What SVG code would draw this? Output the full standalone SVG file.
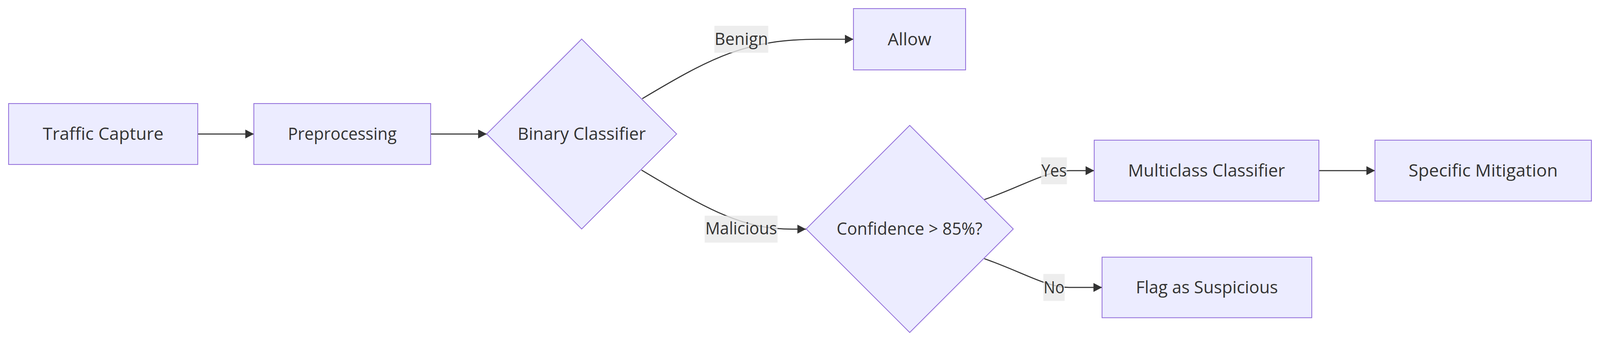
<svg xmlns="http://www.w3.org/2000/svg" width="4280" height="914" viewBox="0 0 4280 914" preserveAspectRatio="xMinYMin meet" style="width:100vw;height:100vh;display:block">
  <style>
    .node rect, .node polygon { fill: #ECECFF; stroke: #9370DB; stroke-width: 2.2; }
    .label { font-family: "Open Sans", "Noto Sans", "DejaVu Sans", sans-serif; font-size: 45px; fill: #333333; text-anchor: middle; }
    .edge { fill: none; stroke: #333333; stroke-width: 2.8; }
    .edgeLabel rect { fill: rgba(232,232,232,0.8); stroke: none; }
  </style>
  <defs>
    <marker id="arrow" viewBox="0 0 10 10" refX="10" refY="5" markerUnits="userSpaceOnUse" markerWidth="23" markerHeight="24" preserveAspectRatio="none" orient="auto">
      <path d="M0,0 L10,5 L0,10 z" fill="#333333"/>
    </marker>
  </defs>
  <rect x="0" y="0" width="4280" height="914" fill="#ffffff"/>

  <g id="connectors">
    <path class="edge" d="M529,358.5 L679,358.5" marker-end="url(#arrow)"/>
    <path class="edge" d="M1152,358.5 L1302,358.5" marker-end="url(#arrow)"/>
    <path class="edge" d="M1718,264 C1907,151 1998,105 2190,105 L2283,105" marker-end="url(#arrow)"/>
    <path class="edge" d="M1716,455 C1905,568 1990,613 2120,613 L2156,613" marker-end="url(#arrow)"/>
    <path class="edge" d="M2633,534 C2740,496 2800,456.5 2860,456.5 L2927,456.5" marker-end="url(#arrow)"/>
    <path class="edge" d="M2633,692 C2740,730 2800,769 2860,769 L2948,769" marker-end="url(#arrow)"/>
    <path class="edge" d="M3528,456.5 L3678,456.5" marker-end="url(#arrow)"/>
  </g>

  <g id="edge-labels">
    <g class="edgeLabel" id="label-benign">
      <rect x="1911" y="69" width="144" height="72"/>
      <text class="label" x="1983" y="120.5" textLength="143" lengthAdjust="spacingAndGlyphs">Benign</text>
    </g>
    <g class="edgeLabel" id="label-malicious">
      <rect x="1885" y="577" width="195" height="72"/>
      <text class="label" x="1982.5" y="627" textLength="192" lengthAdjust="spacingAndGlyphs">Malicious</text>
    </g>
    <g class="edgeLabel" id="label-yes">
      <rect x="2785" y="421" width="69" height="72"/>
      <text class="label" x="2819.5" y="472" textLength="68" lengthAdjust="spacingAndGlyphs">Yes</text>
    </g>
    <g class="edgeLabel" id="label-no">
      <rect x="2791" y="733" width="57" height="72"/>
      <text class="label" x="2819.5" y="784.5" textLength="56" lengthAdjust="spacingAndGlyphs">No</text>
    </g>
  </g>

  <g id="node-traffic-capture" class="node">
    <rect x="23" y="277" width="506" height="163"/>
    <text class="label" x="276" y="374.5" textLength="323" lengthAdjust="spacingAndGlyphs">Traffic Capture</text>
  </g>
  <g id="node-preprocessing" class="node">
    <rect x="679" y="277" width="473" height="163"/>
    <text class="label" x="915.5" y="374.5" textLength="291" lengthAdjust="spacingAndGlyphs">Preprocessing</text>
  </g>
  <g id="node-binary-classifier" class="node">
    <polygon points="1556,104.5 1810,358.5 1556,612.5 1302,358.5"/>
    <text class="label" x="1556" y="374.5" textLength="343" lengthAdjust="spacingAndGlyphs">Binary Classifier</text>
  </g>
  <g id="node-allow" class="node">
    <rect x="2283" y="23" width="300" height="164"/>
    <text class="label" x="2433" y="121" textLength="117" lengthAdjust="spacingAndGlyphs">Allow</text>
  </g>
  <g id="node-confidence" class="node">
    <polygon points="2433.5,335.5 2710.5,612.5 2433.5,889.5 2156.5,612.5"/>
    <text class="label" x="2433" y="628.5" textLength="390" lengthAdjust="spacingAndGlyphs">Confidence &gt; 85%?</text>
  </g>
  <g id="node-multiclass-classifier" class="node">
    <rect x="2927" y="375" width="601" height="163"/>
    <text class="label" x="3227.5" y="472.5" textLength="420" lengthAdjust="spacingAndGlyphs">Multiclass Classifier</text>
  </g>
  <g id="node-specific-mitigation" class="node">
    <rect x="3678" y="375" width="579" height="163"/>
    <text class="label" x="3967.5" y="472.5" textLength="399" lengthAdjust="spacingAndGlyphs">Specific Mitigation</text>
  </g>
  <g id="node-flag-suspicious" class="node">
    <rect x="2948" y="688" width="561" height="162"/>
    <text class="label" x="3228.5" y="785" textLength="380" lengthAdjust="spacingAndGlyphs">Flag as Suspicious</text>
  </g>
</svg>
